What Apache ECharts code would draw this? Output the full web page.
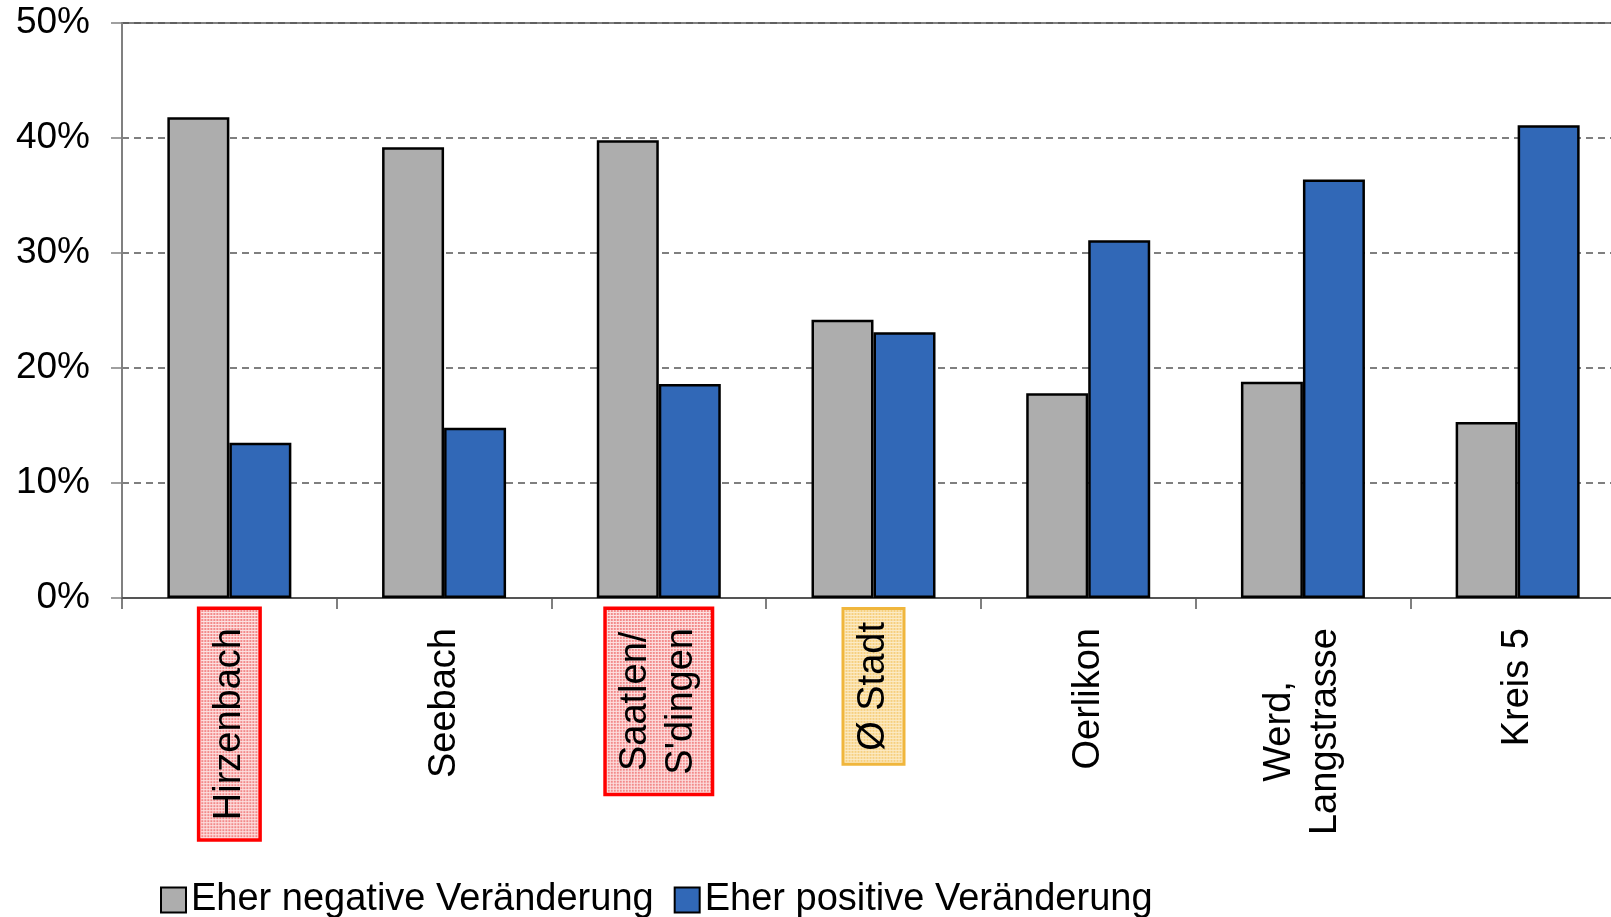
<!DOCTYPE html>
<html>
<head>
<meta charset="utf-8">
<script src="https://cdn.jsdelivr.net/npm/echarts@6/dist/echarts.min.js"></script>
<style>
    html, body { margin: 0; padding: 0; background: #fff; }
    #chart { width: 1611px; height: 917px; }
</style>
</head>
<body>
<div id="chart"></div>
<script>
// Quartiere und Anteile (in %)
const categories = ['Hirzenbach', 'Seebach', 'Saatlen/\nS\'dingen', 'Ø Stadt', 'Oerlikon', 'Werd,\nLangstrasse', 'Kreis 5']
const negative = [41.8, 39.2, 39.8, 24.2, 17.8, 18.8, 15.3]
const positive = [13.5, 14.8, 18.6, 23.1, 31.1, 36.4, 41.1]
const seriesNames = ['Eher negative Veränderung', 'Eher positive Veränderung']
const yTicks = [0, 10, 20, 30, 40, 50]

const FONT = "'Liberation Sans', Arial, sans-serif"

// kariertes Muster für die Markierungs-Kästchen
function makePattern(w, h, base, line) {
    const c = document.createElement('canvas')
    c.width = w
    c.height = h
    const ctx = c.getContext('2d')
    ctx.fillStyle = base
    ctx.fillRect(0, 0, w, h)
    ctx.fillStyle = line
    for (let x = 0; x < w; x += 3) ctx.fillRect(x, 0, 1, h)
    for (let y = 0; y < h; y += 3) ctx.fillRect(0, y, w, 1)
    return c
}

// das Bild deckt die innere Hälfte des Rahmens ab, daher breiter Rahmen
const redBox = (w, h) => ({
    backgroundColor: { image: makePattern(w, h, '#f28a8a', '#fde2e2') },
    borderColor: '#ff0000',
    borderWidth: 7,
    padding: [6, 18],
})

const labelStyles = {
    'Hirzenbach': redBox(228, 58),
    'Saatlen/\nS\'dingen': redBox(183, 104),
    'Ø Stadt': {
        backgroundColor: { image: makePattern(153, 58, '#f6cf7e', '#fcebc6') },
        borderColor: '#f0b63c',
        borderWidth: 6,
        padding: [6, 12],
    },
}

const xData = categories.map((name) => (labelStyles[name] ? { value: name, textStyle: labelStyles[name] } : name))

const chart = echarts.init(document.getElementById('chart'))

const option = {
    animation: false,
    textStyle: { fontFamily: FONT },
    grid: {
        left: 122,
        top: 23,
        width: 1503,
        height: 575,
        outerBoundsMode: 'none',
        show: true,
        borderColor: '#808080',
        borderWidth: 2,
        backgroundColor: 'transparent',
    },
    legend: {
        data: seriesNames,
        icon: 'rect',
        left: 155,
        top: 876,
        itemWidth: 25,
        itemHeight: 25,
        itemGap: 20,
        textStyle: { fontSize: 38, color: '#000', fontFamily: FONT },
    },
    xAxis: {
        type: 'category',
        data: xData,
        axisLine: { lineStyle: { color: '#555', width: 2 } },
        axisTick: { show: true, length: 11, interval: 0, lineStyle: { color: '#555', width: 1.5 } },
        axisLabel: {
            interval: 0,
            rotate: 90,
            margin: 12,
            fontSize: 38,
            color: '#000',
            fontFamily: FONT,
            padding: [6, 18],
            formatter: (v) => v.split('\n').map((s) => `{c|${s}}`).join('\n'),
            rich: {
                c: { align: 'center', fontSize: 38, lineHeight: 46, color: '#000', fontFamily: FONT },
            },
        },
    },
    yAxis: {
        type: 'value',
        min: yTicks[0],
        max: yTicks[yTicks.length - 1],
        interval: 10,
        axisLine: { show: true, lineStyle: { color: '#808080', width: 2 } },
        axisTick: { show: true, length: 11, lineStyle: { color: '#808080', width: 1.5 } },
        axisLabel: {
            margin: 32,
            fontSize: 37,
            color: '#000',
            fontFamily: FONT,
            formatter: '{value}%',
        },
        splitLine: { lineStyle: { color: '#555', width: 1.5, type: [7, 5] } },
    },
    series: [
        {
            name: seriesNames[0],
            type: 'bar',
            data: negative,
            barWidth: 62,
            barGap: '0%',
            itemStyle: { color: '#adadad', borderColor: '#000', borderWidth: 2.5 },
        },
        {
            name: seriesNames[1],
            type: 'bar',
            data: positive,
            barWidth: 62,
            barGap: '0%',
            itemStyle: { color: '#3168b7', borderColor: '#000', borderWidth: 2.5 },
        },
    ],
}

chart.setOption(option)
</script>
</body>
</html>
